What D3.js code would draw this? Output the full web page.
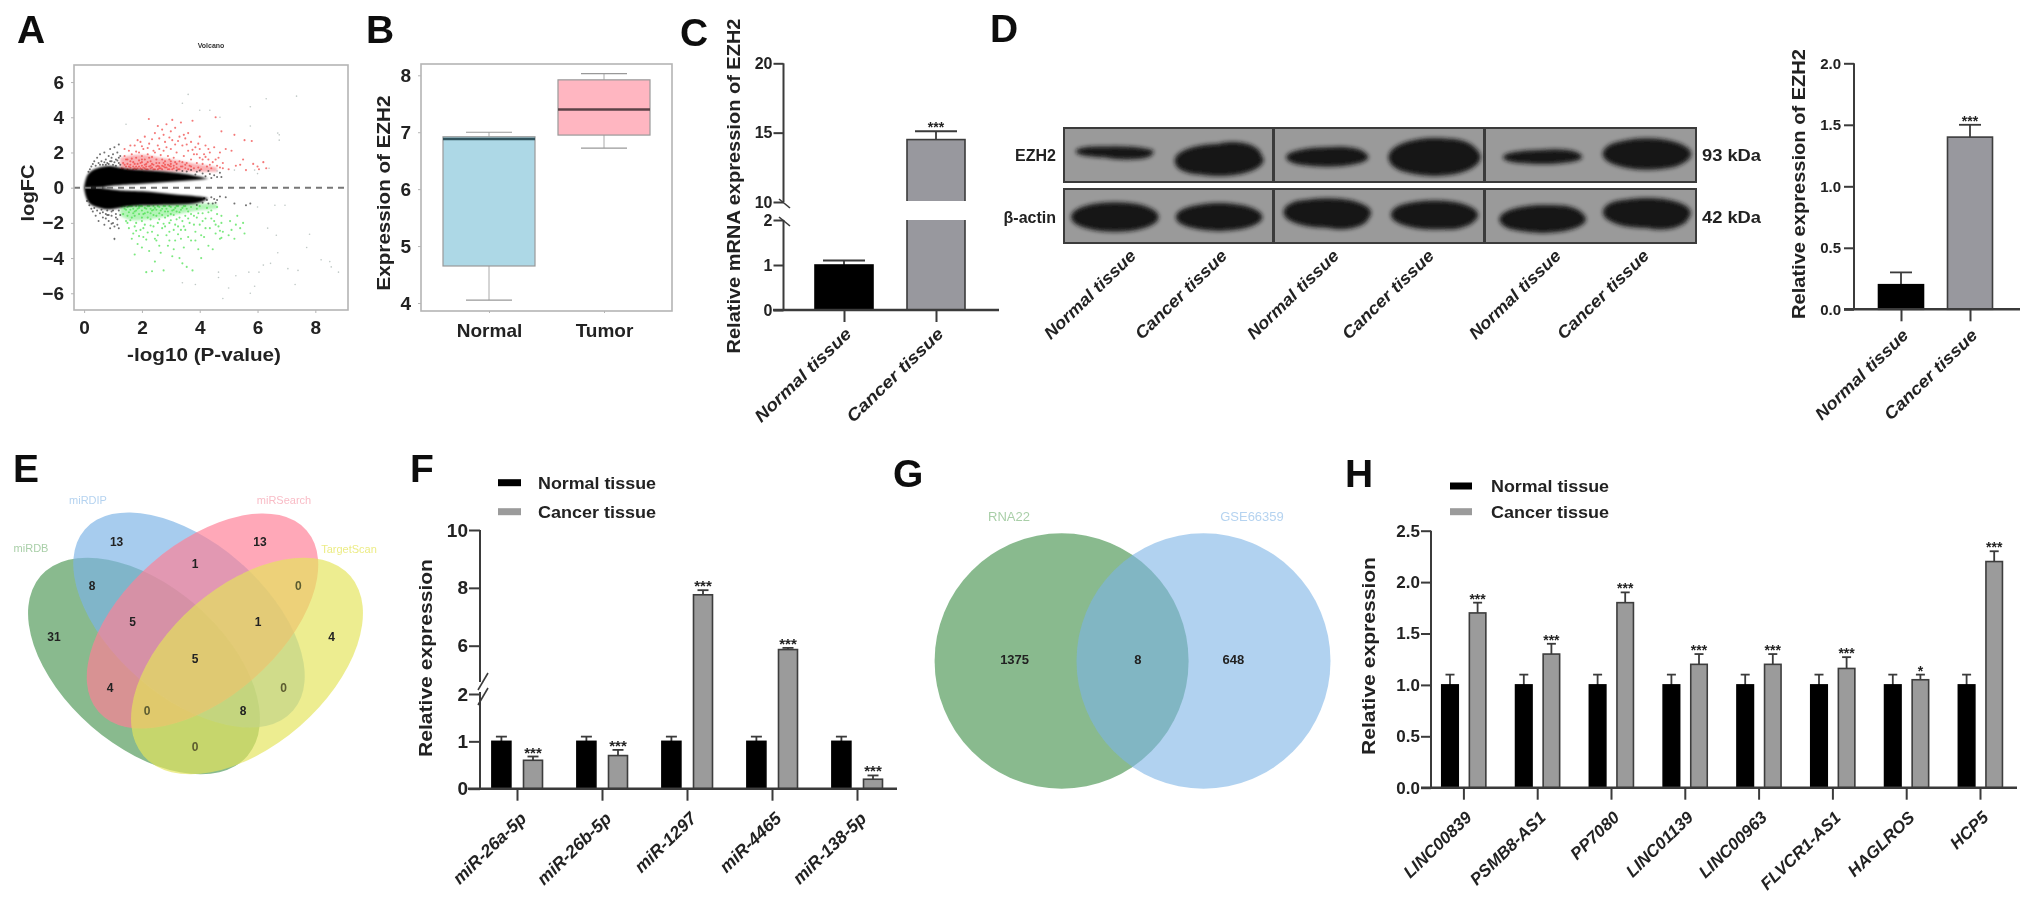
<!DOCTYPE html>
<html><head><meta charset="utf-8">
<script src="https://cdn.jsdelivr.net/npm/d3@7/dist/d3.min.js"></script>
<style>
html,body{margin:0;padding:0;background:#fff}
svg{display:block}
text{font-family:"Liberation Sans",Arial,sans-serif}
</style></head><body>
<svg id="c" width="2031" height="912"></svg>
<script>
// ---------- DATA ----------
const volcanoRed=[[1.3,1.1],[1.35,1.4],[1.4,1.8],[1.45,1.2],[1.5,1.05],[1.5,1.6],[1.55,2.1],[1.6,1.3],[1.6,1.15],[1.65,1.9],[1.7,1.05],[1.7,1.45],[1.75,2.4],[1.8,1.2],[1.8,1.7],[1.85,1.1],[1.85,1.35],[1.9,2.0],[1.9,1.55],[1.95,2.6],[2,1.05],[2,1.25],[2,1.45],[2,1.8],[2.05,2.2],[2.1,1.1],[2.1,1.6],[2.1,2.9],[2.15,1.35],[2.2,1.05],[2.2,1.9],[2.25,1.2],[2.24,3.9],[2.25,2.5],[2.3,1.5],[2.3,1.1],[2.35,1.75],[2.4,2.1],[2.4,1.3],[2.45,3.1],[2.45,1.05],[2.5,1.6],[2.5,1.2],[2.55,2.4],[2.6,1.1],[2.6,1.4],[2.6,2.8],[2.65,1.85],[2.7,1.05],[2.7,1.25],[2.7,3.3],[2.75,2.1],[2.8,1.5],[2.8,1.15],[2.8,2.6],[2.85,3.6],[2.9,1.3],[2.9,1.8],[2.95,1.05],[3,1.2],[3,1.5],[3,2.2],[3,3.2],[3.05,2.7],[3.1,1.1],[3.1,1.7],[3.15,3.4],[3.2,1.35],[3.2,2.0],[3.25,1.05],[3.3,2.9],[3.3,1.5],[3.35,3.7],[3.4,1.2],[3.4,2.4],[3.45,1.8],[3.5,1.1],[3.5,2.8],[3.55,1.4],[3.6,3.1],[3.6,2.1],[3.65,1.25],[3.7,1.6],[3.7,2.6],[3.75,3.8],[3.8,1.1],[3.8,1.9],[3.85,2.3],[3.9,1.4],[3.95,1.15],[4,1.7],[4,2.9],[4,2.2],[4.05,1.05],[4.1,1.35],[4.15,1.9],[4.2,2.4],[4.25,1.2],[4.3,1.6],[4.35,2.0],[4.4,1.1],[4.45,1.45],[4.5,2.3],[4.55,4.0],[4.6,1.25],[4.65,1.7],[4.7,2.0],[4.75,3.2],[4.8,1.1],[4.8,1.4],[4.9,2.2],[5,1.05],[5.1,2.1],[5.2,3.0],[5.25,1.25],[5.4,1.3],[5.5,1.6],[5.6,1.0],[5.55,2.7],[5.8,2.65],[5.85,1.35],[6,1.2],[6.2,1.45],[6.3,1.1],[6.05,1.05],[1.4,1.3],[1.5,1.35],[1.6,1.5],[1.7,1.2],[1.8,1.05],[1.9,1.2],[2,1.6],[2.1,1.3],[2.2,1.45],[2.3,1.25],[2.4,1.05],[2.5,1.4],[2.6,1.2],[2.7,1.6],[2.8,1.3],[2.9,1.05],[3,1.35],[3.1,1.25],[3.2,1.15],[3.3,1.05],[3.4,1.45],[3.5,1.3],[3.6,1.05],[3.7,1.2],[1.45,1.6],[1.65,1.65],[1.75,1.35],[1.95,1.4],[2.05,1.15],[2.15,1.05],[2.25,1.7],[2.35,1.15],[2.55,1.25],[2.65,1.1],[2.75,1.4],[2.85,1.15],[2.95,1.6],[3.05,1.05],[3.15,1.45],[3.35,1.2],[1.35,1.05],[1.55,1.2],[1.75,1.1],[1.95,1.1],[2.15,1.2],[2.35,1.35],[2.55,1.05],[2.75,1.2],[2.95,1.25],[1.4,2.2],[1.6,2.4],[1.8,2.05],[1.85,2.7],[2.0,2.35],[2.2,2.25],[2.35,2.75],[2.45,2.0],[2.6,2.2],[2.85,2.3],[2.95,2.85],[3.15,2.45],[3.25,2.65],[3.45,3.0],[3.55,2.45],[3.75,2.15],[3.9,1.9],[4.1,1.6],[4.2,1.75],[4.35,1.3],[4.55,1.6],[4.7,1.15],[4.3,2.2],[3.95,2.5],[3.05,3.85],[2.75,3.0],[2.55,3.5]];
const volcanoGreen=[[1.3,-1.05],[1.35,-1.5],[1.4,-1.2],[1.45,-1.9],[1.5,-1.1],[1.55,-1.4],[1.55,-2.3],[1.6,-1.05],[1.65,-1.7],[1.7,-1.2],[1.7,-2.6],[1.75,-1.35],[1.8,-1.05],[1.8,-2.0],[1.85,-3.2],[1.9,-1.5],[1.9,-1.15],[1.95,-2.4],[2,-1.05],[2,-1.3],[2,-1.7],[2.05,-2.8],[2.1,-1.15],[2.1,-2.1],[2.15,-4.8],[2.2,-1.4],[2.2,-1.05],[2.25,-3.6],[2.3,-1.8],[2.3,-1.2],[2.35,-2.5],[2.4,-1.05],[2.4,-1.55],[2.45,-4.2],[2.5,-1.25],[2.5,-3.0],[2.55,-2.0],[2.6,-1.1],[2.6,-1.45],[2.65,-3.7],[2.7,-2.3],[2.7,-1.2],[2.75,-4.7],[2.8,-1.7],[2.8,-1.05],[2.85,-2.7],[2.9,-1.35],[2.9,-3.3],[2.95,-2.0],[3,-1.1],[3,-1.5],[3.05,-3.9],[3.1,-2.4],[3.1,-1.25],[3.15,-3.0],[3.2,-1.05],[3.2,-1.8],[3.25,-2.2],[3.3,-1.4],[3.3,-4.0],[3.35,-2.9],[3.4,-1.15],[3.4,-1.9],[3.45,-3.4],[3.5,-1.05],[3.5,-2.4],[3.55,-4.5],[3.6,-1.35],[3.65,-2.0],[3.7,-3.0],[3.7,-1.1],[3.75,-4.7],[3.8,-1.6],[3.85,-2.5],[3.9,-1.2],[3.95,-3.5],[4,-1.05],[4,-2.1],[4.05,-4.0],[4.1,-1.45],[4.15,-2.8],[4.2,-1.75],[4.25,-1.15],[4.3,-3.3],[4.35,-2.3],[4.4,-1.3],[4.45,-3.5],[4.5,-1.9],[4.55,-2.6],[4.6,-1.1],[4.6,-1.5],[4.65,-2.2],[4.7,-2.9],[4.75,-1.6],[4.75,-2.0],[4.8,-2.5],[5,-2.7],[5.05,-1.9],[5.1,-2.4],[5.2,-2.9],[5.25,-2.1],[5.3,-1.6],[5.4,-2.3],[5.5,-2.0],[5.55,-2.6],[1.4,-1.05],[1.5,-1.6],[1.6,-1.25],[1.65,-1.05],[1.75,-1.6],[1.85,-1.2],[1.95,-1.05],[2.05,-1.5],[2.15,-1.2],[2.25,-1.05],[2.35,-1.3],[2.45,-1.15],[2.55,-1.05],[2.65,-1.3],[2.75,-1.05],[2.85,-1.2],[2.95,-1.05],[3.05,-1.3],[3.15,-1.15],[3.25,-1.05],[3.35,-1.25],[3.45,-1.05],[3.55,-1.2],[1.45,-1.25],[1.55,-1.05],[1.7,-1.45],[1.8,-1.3],[1.9,-1.05],[2,-1.9],[2.1,-1.45],[2.2,-1.7],[2.3,-1.45],[2.4,-1.25],[2.5,-1.6],[2.6,-1.8],[2.7,-1.55],[2.8,-1.35],[2.9,-1.6],[3,-1.85],[3.1,-1.55],[3.2,-1.35],[3.3,-1.7],[3.5,-1.6],[3.7,-1.5],[3.9,-1.7],[4.1,-1.9],[4.3,-1.4],[1.6,-1.85],[1.75,-2.2],[1.9,-2.75],[2.05,-2.3],[2.2,-2.55],[2.4,-2.2],[2.55,-2.7],[2.75,-2.05],[2.95,-2.5],[3.15,-2.1],[3.35,-2.4],[3.6,-2.8],[3.85,-3.0],[4.05,-2.7],[1.5,-2.0],[1.65,-2.9],[1.8,-2.45],[2.0,-3.4],[2.15,-2.95],[2.3,-2.15],[2.45,-2.9],[2.6,-3.3],[2.8,-2.2],[2.95,-3.0],[3.1,-3.5],[3.25,-2.65],[3.45,-2.2],[3.6,-1.75],[3.8,-2.1],[3.95,-1.45],[4.2,-2.3],[4.4,-1.75],[4.55,-2.1],[4.7,-2.45],[4.75,-2.85],[1.75,-3.8],[2.35,-4.75],[3.4,-4.3]];
const volcanoBlack=[[0.25,1.2],[0.3,1.35],[0.35,1.5],[0.4,1.25],[0.45,1.7],[0.5,1.4],[0.55,1.9],[0.6,1.5],[0.65,1.3],[0.7,2.0],[0.75,1.6],[0.8,1.4],[0.85,1.8],[0.9,2.2],[0.95,1.5],[1,1.3],[1,1.9],[1.05,2.3],[1.1,1.6],[1.15,2.0],[1.2,1.4],[1.2,2.45],[1.25,1.8],[0.95,1.7],[0.85,1.35],[0.75,1.3],[1.1,1.25],[1.05,1.45],[1.15,1.55],[1.25,1.3],[1.2,1.7],[0.9,1.5],[0.7,1.45],[0.55,1.3],[0.25,-1.2],[0.3,-1.35],[0.35,-1.15],[0.4,-1.6],[0.45,-1.3],[0.5,-1.9],[0.55,-1.45],[0.6,-1.25],[0.65,-1.7],[0.7,-2.1],[0.75,-1.5],[0.8,-1.3],[0.85,-1.9],[0.9,-2.3],[0.95,-1.6],[1,-1.3],[1,-2.0],[1.05,-2.2],[1.05,-2.9],[1.1,-1.5],[1.15,-1.8],[1.2,-2.3],[1.2,-1.3],[0.65,-1.4],[0.85,-1.55],[0.75,-1.75],[0.95,-1.35],[1.1,-1.7],[1.25,-1.55],[1.15,-2.1],[0.95,-2.05],[0.8,-1.55],[3.9,0.9],[4.1,0.8],[4.3,0.95],[4.5,0.7],[4.7,0.85],[4.75,0.6],[3.7,1.0],[3.4,0.95],[4.2,0.65],[3.2,0.98],[3.55,0.92],[3.85,0.75],[4.0,0.98],[4.35,0.78],[4.6,0.6],[4.4,0.55],[4.4,-0.55],[4.1,-0.85],[4.25,-0.7],[4.55,-0.85],[4.7,-0.5],[4.9,-0.55],[5.2,-0.9],[5.75,-0.9],[5.6,-1.0],[4.45,-0.9],[4.5,-0.65],[4.3,-0.9],[4.6,-0.7],[3.9,-0.98],[4.15,-0.6],[1.3,0.98],[1.25,1.0],[0.15,0.9],[0.1,-0.75],[0.2,1.05],[0.18,-1.0]];
const volcanoGray=[[1.45,3.6],[3.4,4.8],[3.6,5.3],[4.0,4.4],[4.35,4.4],[4.7,4.0],[5.75,4.6],[5.75,3.5],[6.3,5.05],[7.35,5.2],[6.75,3.0],[6.75,2.7],[6.7,3.1],[6.4,1.1],[5.9,1.0],[6.0,0.8],[5.2,1.0],[4.6,0.95],[1.05,-2.95],[4.65,-4.8],[5.25,-5.0],[5.7,-4.8],[6.05,-4.8],[6.2,-4.4],[6.45,-4.3],[6.7,-3.7],[6.65,-2.7],[6.35,-2.3],[7.3,-5.5],[7.05,-4.6],[7.4,-4.7],[7.8,-2.65],[8.2,-4.1],[8.5,-4.2],[8.55,-4.5],[8.8,-4.8],[7.7,-3.4],[3.4,-5.4],[3.85,-5.5],[4.65,-5.1],[4.8,-6.3],[5.0,-5.7],[5.75,-6.0],[5.9,-5.6],[6.0,-1.1],[6.6,-1.0],[6.95,-1.0]];
// envelope of the saturated black mass, per -log10(P) position
const massX=[0,0.05,0.15,0.4,0.65,0.9,1.2,1.5,2,2.5,3,3.5,4,4.3];
const massUpOuter=[0.05,0.5,0.85,1.1,1.2,1.25,1.15,1.05,1.0,0.95,0.88,0.8,0.62,0.5];
const massUpInner=[0,0,0,0,0.02,0.1,0.14,0.18,0.22,0.28,0.34,0.4,0.46,0.5];
const massLoInner=[0,0,0,0,-0.02,-0.1,-0.14,-0.18,-0.2,-0.28,-0.36,-0.44,-0.5,-0.6];
const massLoOuter=[-0.05,-0.5,-0.9,-1.1,-1.2,-1.25,-1.15,-1.05,-1.0,-0.98,-0.98,-0.95,-0.88,-0.6];
// saturated density of the coloured points, per -log10(P) position
const denseX=[1.25,1.6,2,2.5,3,3.4,3.9,4.6];
const denseRedTop=[1.7,1.85,1.9,1.75,1.6,1.5,1.35,1.15];
const denseGreenBottom=[-1.6,-1.9,-1.85,-1.75,-1.6,-1.45,-1.3,-1.2];

const boxCats=["Normal","Tumor"];
const boxLow=[4.05,6.72],boxQ1=[4.65,6.95],boxMed=[6.88,7.4],boxQ3=[6.92,7.92],boxHigh=[7.0,8.03];

const tissue=["Normal tissue","Cancer tissue"];
const cValues=[1.0,14.5],cErr=[1.1,15.1];
const dValues=[0.2,1.4],dErr=[0.3,1.5];

const blotLanes=["Normal tissue","Cancer tissue","Normal tissue","Cancer tissue","Normal tissue","Cancer tissue"];
const ezh2Signal=[0.12,0.8,0.38,1.0,0.2,0.78];
const actinSignal=[0.72,0.66,0.72,0.7,0.66,0.74];

const vennNames=["miRDB","miRDIP","miRSearch","TargetScan"];
const vennCounts=[13,13,8,1,0,5,1,31,4,5,4,0,0,8,0];
const venn2Names=["RNA22","GSE66359"];
const venn2Counts=[1375,8,648];

const miRs=["miR-26a-5p","miR-26b-5p","miR-1297","miR-4465","miR-138-5p"];
const fNormal=[1,1,1,1,1],fNormalErr=[1.1,1.1,1.1,1.1,1.1];
const fCancer=[0.6,0.7,7.76,5.68,0.2],fCancerErr=[0.68,0.82,7.92,5.82,0.28];
const fStars=["***","***","***","***","***"];

const lncs=["LINC00839","PSMB8-AS1","PP7080","LINC01139","LINC00963","FLVCR1-AS1","HAGLROS","HCP5"];
const hNormal=[1,1,1,1,1,1,1,1],hNormalErr=[1.1,1.1,1.1,1.1,1.1,1.1,1.1,1.1];
const hCancer=[1.7,1.3,1.8,1.2,1.2,1.16,1.05,2.2],hCancerErr=[1.8,1.4,1.9,1.3,1.3,1.27,1.1,2.3];
const hStars=["***","***","***","***","***","***","*","***"];

// ---------- LAYOUT ----------
const svg=d3.select("#c");
const defs=svg.append("defs");
const blur=(id,s)=>defs.append("filter").attr("id",id).attr("x","-30%").attr("y","-60%").attr("width","160%").attr("height","220%")
  .append("feGaussianBlur").attr("stdDeviation",s);
blur("soft",0.45);blur("bandBlur",2.2);blur("massBlur",0.9);
const root=svg.append("g").attr("filter","url(#soft)");
const AX="#3a3a3a", BAR="#98989e", BAR2="#9b9b9b";

function txt(x,y,s,o={}){
  const t=root.append("text").attr("x",x).attr("y",y).text(s)
    .attr("font-size",o.size||16).attr("font-weight",o.weight||"bold")
    .attr("text-anchor",o.anchor||"start").attr("fill",o.fill||"#222");
  if(o.italic)t.attr("font-style","italic");
  if(o.rot!==undefined)t.attr("transform",`rotate(${o.rot} ${x} ${y})`);
  if(o.len)t.attr("textLength",o.len).attr("lengthAdjust","spacingAndGlyphs");
  return t;
}
[["A",17,43],["B",366,43],["C",680,46],["D",990,42],["E",13,482],["F",410,482],["G",893,487],["H",1345,487]]
 .forEach(d=>txt(d[1],d[2],d[0],{size:39,fill:"#111"}));

// ---------- A: volcano ----------
(function(){
  const x=d3.scaleLinear().domain([-0.35,9.13]).range([74,348]);
  const y=d3.scaleLinear().domain([-6.95,6.97]).range([310,65]);
  const g=root.append("g");
  const dots=(data,col,op,r)=>g.append("g").selectAll("circle").data(data).join("circle")
    .attr("cx",d=>x(d[0])).attr("cy",d=>y(d[1])).attr("r",r).attr("fill",col).attr("fill-opacity",op);
  const area=d3.area().x(d=>x(d.x)).y0(d=>y(d.a)).y1(d=>y(d.b)).curve(d3.curveBasis);
  const soft=g.append("g").attr("filter","url(#massBlur)");
  soft.append("path").attr("d",area(denseX.map((v,i)=>({x:v,a:0.9,b:denseRedTop[i]})))).attr("fill","#f2545a").attr("fill-opacity",0.45);
  soft.append("path").attr("d",area(denseX.map((v,i)=>({x:v,a:-0.9,b:denseGreenBottom[i]})))).attr("fill","#4fe455").attr("fill-opacity",0.42);
  dots(volcanoGray,"#8a9a96",0.55,0.8);
  dots(volcanoRed,"#f0403f",0.7,1.05);
  dots(volcanoGreen,"#45e04a",0.7,1.05);
  dots(volcanoBlack,"#222",0.65,1);
  g.append("g").attr("filter","url(#massBlur)").call(h=>{
    h.append("path").attr("d",area(massX.map((v,i)=>({x:v,a:massUpInner[i],b:massUpOuter[i]})))).attr("fill","#050505");
    h.append("path").attr("d",area(massX.map((v,i)=>({x:v,a:massLoInner[i],b:massLoOuter[i]})))).attr("fill","#050505");
  });
  g.append("line").attr("x1",x(-0.35)).attr("x2",x(9.13)).attr("y1",y(0)).attr("y2",y(0))
    .attr("stroke","#777").attr("stroke-width",2).attr("stroke-dasharray","6 5");
  g.append("rect").attr("x",74).attr("y",65).attr("width",274).attr("height",245).attr("fill","none").attr("stroke","#b5b5b5").attr("stroke-width",1.6);
  const ax=g.append("g").attr("transform","translate(0,310)").call(d3.axisBottom(x).tickValues([0,2,4,6,8]).tickSize(3).tickPadding(8));
  const ay=g.append("g").attr("transform","translate(74,0)").call(d3.axisLeft(y).tickValues([-6,-4,-2,0,2,4,6]).tickSize(3).tickPadding(7));
  [ax,ay].forEach(a=>{a.select(".domain").remove();a.selectAll("line").attr("stroke","#b5b5b5");
    a.selectAll("text").attr("font-size",19).attr("font-weight","bold").attr("fill","#222").attr("font-family",'"Liberation Sans"');});
  txt(211,48,"Volcano",{size:7,anchor:"middle",fill:"#333"});
  txt(34,193,"logFC",{size:19,anchor:"middle",rot:-90,len:57});
  txt(204,361,"-log10 (P-value)",{size:19,anchor:"middle",len:154});
})();

// ---------- B: box plot ----------
(function(){
  const y=d3.scaleLinear().domain([4,8]).range([303,75.3]);
  const x=d3.scalePoint().domain(boxCats).range([489,604]);
  const g=root.append("g");
  const fills=["#add8e6","#ffb6c1"];
  boxCats.forEach((c,i)=>{
    const cx=x(c);
    g.append("line").attr("x1",cx).attr("x2",cx).attr("y1",y(boxLow[i])).attr("y2",y(boxHigh[i])).attr("stroke","#aaa").attr("stroke-width",1);
    [boxLow[i],boxHigh[i]].forEach(v=>g.append("line").attr("x1",cx-23).attr("x2",cx+23).attr("y1",y(v)).attr("y2",y(v)).attr("stroke","#999").attr("stroke-width",1.2));
    g.append("rect").attr("x",cx-46).attr("width",92).attr("y",y(boxQ3[i])).attr("height",y(boxQ1[i])-y(boxQ3[i])).attr("fill",fills[i]).attr("stroke","#999").attr("stroke-width",1.2);
    g.append("line").attr("x1",cx-46).attr("x2",cx+46).attr("y1",y(boxMed[i])).attr("y2",y(boxMed[i])).attr("stroke",i?"#5c4247":"#33545e").attr("stroke-width",2.6);
  });
  g.append("rect").attr("x",421).attr("y",64).attr("width",251).attr("height",247).attr("fill","none").attr("stroke","#b5b5b5").attr("stroke-width",1.6);
  const ay=g.append("g").attr("transform","translate(421,0)").call(d3.axisLeft(y).tickValues([4,5,6,7,8]).tickFormat(d3.format("d")).tickSize(3).tickPadding(7));
  const ax=g.append("g").attr("transform","translate(0,311)").call(d3.axisBottom(x).tickSize(2).tickPadding(11));
  [ax,ay].forEach(a=>{a.select(".domain").remove();a.selectAll("line").attr("stroke","#b5b5b5");
    a.selectAll("text").attr("font-size",19).attr("font-weight","bold").attr("fill","#222").attr("font-family",'"Liberation Sans"');});
  txt(390,193,"Expression of EZH2",{size:19,anchor:"middle",rot:-90,len:195});
})();

// ---------- bar helpers ----------
function styleAxis(a,size,weight){
  a.select(".domain").remove();
  a.selectAll("line").attr("stroke",AX).attr("stroke-width",2);
  a.selectAll("text").attr("font-size",size).attr("font-weight",weight||"bold").attr("fill","#222").attr("font-family",'"Liberation Sans"');
}
function bars(g,x,y,cats,vals,errs,offset,width,fills,cap,base){
  cats.forEach((c,i)=>{
    const cx=x(c)+offset, top=y(vals[i]), fill=Array.isArray(fills)?fills[i]:fills;
    g.append("line").attr("x1",cx).attr("x2",cx).attr("y1",top).attr("y2",y(errs[i])).attr("stroke",AX).attr("stroke-width",1.8);
    g.append("line").attr("x1",cx-cap).attr("x2",cx+cap).attr("y1",y(errs[i])).attr("y2",y(errs[i])).attr("stroke",AX).attr("stroke-width",1.8);
    g.append("rect").attr("x",cx-width/2).attr("width",width).attr("y",top).attr("height",base-top)
      .attr("fill",fill).attr("stroke",fill==="#000"?"#000":"#3c3c3c").attr("stroke-width",1.6);
  });
}
function stars(g,x,y,cats,errs,offset,labels,size){
  cats.forEach((c,i)=>g.append("text").attr("x",x(c)+offset).attr("y",y(errs[i])+1).attr("text-anchor","middle")
    .attr("font-size",size).attr("font-weight","bold").attr("fill","#222").text(labels[i]));
}
function legend(x0,x1,xt,y0,y1,len){
  [[y0,"#000",tissue[0]],[y1,BAR2,tissue[1]]].forEach(d=>{
    root.append("rect").attr("x",x0).attr("width",x1-x0).attr("y",d[0]-3.5).attr("height",7).attr("fill",d[1]);
    txt(xt,d[0]+6,d[2],{size:16,len});
  });
}
function rotLabels(ax,size,dx,dy,len){
  ax.selectAll("text").attr("transform",null).attr("text-anchor","end")
    .attr("font-style","italic").attr("font-size",size)
    .attr("textLength",len||null).attr("lengthAdjust","spacingAndGlyphs")
    .attr("x",0).attr("y",0).attr("dy",null)
    .attr("transform",`translate(${dx},${dy}) rotate(-44)`);
}

// ---------- C ----------
(function(){
  const y=d3.scaleLinear().domain([0,2,10,20]).range([310,220,202,63.3]);
  const x=d3.scalePoint().domain(tissue).range([844,936]);
  const g=root.append("g");
  bars(g,x,y,tissue,cValues,cErr,0,58,["#000",BAR],21,310);
  g.append("rect").attr("x",900).attr("width",72).attr("y",y(10)-1).attr("height",y(2)-y(10)+1).attr("fill","#fff");
  stars(g,x,y,tissue.slice(1),[cErr[1]],0,["***"],14);
  g.append("line").attr("x1",783.5).attr("x2",783.5).attr("y1",y(0)).attr("y2",y(2)).attr("stroke",AX).attr("stroke-width",2);
  g.append("line").attr("x1",783.5).attr("x2",783.5).attr("y1",y(10)).attr("y2",y(20)).attr("stroke",AX).attr("stroke-width",2);
  [[y(10)],[y(2)]].forEach(d=>g.append("line").attr("x1",779).attr("x2",790).attr("y1",d[0]-3).attr("y2",d[0]+6).attr("stroke",AX).attr("stroke-width",1.6));
  const ay=g.append("g").attr("transform","translate(783.5,0)").call(d3.axisLeft(y).tickValues([0,1,2,10,15,20]).tickFormat(d3.format("d")).tickSize(10).tickPadding(1));
  styleAxis(ay,16);
  g.append("line").attr("x1",773).attr("x2",999).attr("y1",310).attr("y2",310).attr("stroke",AX).attr("stroke-width",2.6);
  const ax=g.append("g").attr("transform","translate(0,310)").call(d3.axisBottom(x).tickSize(12));
  styleAxis(ax,17); rotLabels(ax,17,8,25,127);
  txt(740,186,"Relative mRNA expression of EZH2",{size:18,anchor:"middle",rot:-90,len:335,weight:"600"});
})();

// ---------- D blot ----------
(function(){
  const lanes=d3.scalePoint().domain(d3.range(6)).range([1115,1641]);
  const offs=[0,-1,2,4,7,6];
  const rows=[{sig:ezh2Signal,y0:128,y1:182,mid:155,name:"EZH2",kda:"93 kDa",tilt:[-3,5,2,2,2,-1]},
              {sig:actinSignal,y0:189,y1:243,mid:217,name:"β-actin",kda:"42 kDa",tilt:[0,0,-4,-2,2,-4]}];
  const w=d3.scaleLinear().domain([0,1]).range([38,46]);
  const h=d3.scaleLinear().domain([0,1]).range([4,19]);
  const panels=[[1064,1273],[1274,1484],[1485,1696]];
  rows.forEach(r=>{
    panels.forEach(p=>root.append("rect").attr("x",p[0]).attr("y",r.y0).attr("width",p[1]-p[0]).attr("height",r.y1-r.y0)
      .attr("fill","#9a9a9a").attr("stroke","#3a3a3a").attr("stroke-width",2));
    const b=root.append("g").attr("filter","url(#bandBlur)");
    b.selectAll("ellipse.main").data(r.sig).join("ellipse").attr("class","main")
      .attr("cx",(d,i)=>lanes(i)+offs[i]).attr("cy",(d,i)=>r.mid+r.tilt[i]).attr("rx",d=>w(d)).attr("ry",d=>h(d)).attr("fill","#141414");
    b.selectAll("ellipse.lobe").data(r.sig).join("ellipse").attr("class","lobe")
      .attr("cx",(d,i)=>lanes(i)+offs[i]+w(d)*0.3).attr("cy",(d,i)=>r.mid+r.tilt[i]*0.2).attr("rx",d=>w(d)*0.65).attr("ry",d=>h(d)*0.88).attr("fill","#141414");
    b.selectAll("ellipse.lobe2").data(r.sig).join("ellipse").attr("class","lobe2")
      .attr("cx",(d,i)=>lanes(i)+offs[i]-w(d)*0.45).attr("cy",(d,i)=>r.mid+r.tilt[i]*1.3).attr("rx",d=>w(d)*0.55).attr("ry",d=>h(d)*0.8).attr("fill","#141414");
    txt(1056,r.mid+6,r.name,{size:16,anchor:"end"});
    txt(1702,r.mid+6,r.kda,{size:16,len:59});
  });
  blotLanes.forEach((c,i)=>{
    txt([1137,1228,1340,1435,1562,1650][i],257,c,{size:17,anchor:"end",italic:true,rot:-44,len:120});
  });
})();

// ---------- D bars ----------
(function(){
  const y=d3.scaleLinear().domain([0,2]).range([309.3,63.3]);
  const x=d3.scalePoint().domain(tissue).range([1901,1970]);
  const g=root.append("g");
  bars(g,x,y,tissue,dValues,dErr,0,45,["#000",BAR],11,309.3);
  stars(g,x,y,tissue.slice(1),[dErr[1]],0,["***"],14);
  g.append("line").attr("x1",1854).attr("x2",1854).attr("y1",y(0)).attr("y2",y(2)).attr("stroke",AX).attr("stroke-width",2);
  const ay=g.append("g").attr("transform","translate(1854,0)").call(d3.axisLeft(y).tickValues([0,0.5,1,1.5,2]).tickFormat(d3.format(".1f")).tickSize(10).tickPadding(3));
  styleAxis(ay,15);
  g.append("line").attr("x1",1844).attr("x2",2020).attr("y1",309.3).attr("y2",309.3).attr("stroke",AX).attr("stroke-width",2.6);
  const ax=g.append("g").attr("transform","translate(0,309.3)").call(d3.axisBottom(x).tickSize(12));
  styleAxis(ax,17); rotLabels(ax,17,8,27,122);
  txt(1805,184,"Relative expression of EZH2",{size:18,anchor:"middle",rot:-90,len:270,weight:"600"});
})();

// ---------- E venn ----------
(function(){
  const ell=[{cx:144,cy:666,a:137,b:80,r:41,f:"#4f9a58"},{cx:189,cy:620,a:138,b:77,r:41,f:"#7db4e6"},{cx:202.5,cy:621,a:138,b:77,r:-41,f:"#ff8096"},{cx:247,cy:666,a:137,b:80,r:-41,f:"#e4e45c"}];
  const g=root.append("g");
  g.selectAll("ellipse").data(ell).join("ellipse").attr("cx",d=>d.cx).attr("cy",d=>d.cy).attr("rx",d=>d.a).attr("ry",d=>d.b)
    .attr("transform",d=>`rotate(${d.r} ${d.cx} ${d.cy})`).attr("fill",d=>d.f).attr("fill-opacity",0.68);
  const pos=[[116.6,541.7],[260,541.7],[92,585.7],[195,564],[298.4,585.7],[132.7,622],[258,622],[54,637],[331.5,637],[195,659],[110,688],[283.7,688],[147,710.7],[243,710.7],[195,747]];
  vennCounts.forEach((c,i)=>txt(pos[i][0],pos[i][1]+4,c,{size:12,anchor:"middle",fill:c===0?"#5c5c30":"#222"}));
  const np=[[31,552,"#a9cfa8"],[88,504,"#b5d3f0"],[284,504,"#f9bcc6"],[349,553,"#ecec86"]];
  vennNames.forEach((n,i)=>txt(np[i][0],np[i][1],n,{size:11,anchor:"middle",weight:"normal",fill:np[i][2]}));
})();

// ---------- F ----------
(function(){
  const y=d3.scaleLinear().domain([0,2,6,10]).range([788.7,694,645.7,530]);
  const x=d3.scalePoint().domain(miRs).range([517,857]);
  const g=root.append("g");
  bars(g,x,y,miRs,fNormal,fNormalErr,-15.6,19,"#000",5.5,788.7);
  bars(g,x,y,miRs,fCancer,fCancerErr,16,19,BAR2,5.5,788.7);
  stars(g,x,y,miRs,fCancerErr,16,fStars,15);
  g.append("line").attr("x1",480).attr("x2",480).attr("y1",y(0)).attr("y2",y(2)-2).attr("stroke",AX).attr("stroke-width",2);
  g.append("line").attr("x1",480).attr("x2",480).attr("y1",682).attr("y2",y(10)).attr("stroke",AX).attr("stroke-width",2);
  [682,697].forEach(v=>g.append("line").attr("x1",478).attr("x2",488).attr("y1",v+8).attr("y2",v-9).attr("stroke",AX).attr("stroke-width",1.6));
  const ay=g.append("g").attr("transform","translate(480,0)").call(d3.axisLeft(y).tickValues([0,1,2,6,8,10]).tickFormat(d3.format("d")).tickSize(11).tickPadding(1));
  styleAxis(ay,19);
  g.append("line").attr("x1",468).attr("x2",897).attr("y1",788.7).attr("y2",788.7).attr("stroke",AX).attr("stroke-width",2.4);
  const ax=g.append("g").attr("transform","translate(0,788.7)").call(d3.axisBottom(x).tickSize(12));
  styleAxis(ax,17.5,"bold"); rotLabels(ax,17.5,10,31);
  txt(432,658,"Relative expression",{size:19,anchor:"middle",rot:-90,len:198,weight:"600"});
  legend(498,521,538,482.7,511.7,118);
})();

// ---------- G venn ----------
(function(){
  const cs=[{cx:1061.6,f:"#4f9a58",o:0.68},{cx:1203.5,f:"#7db4e6",o:0.6}];
  const g=root.append("g");
  g.selectAll("ellipse").data(cs).join("ellipse").attr("cx",d=>d.cx).attr("cy",661).attr("rx",127).attr("ry",127.7).attr("fill",d=>d.f).attr("fill-opacity",d=>d.o);
  [1014.6,1137.8,1233.4].forEach((px,i)=>txt(px,664,venn2Counts[i],{size:13,anchor:"middle"}));
  txt(1009,521,venn2Names[0],{size:13,anchor:"middle",weight:"normal",fill:"#a9cfa8"});
  txt(1252,521,venn2Names[1],{size:13,anchor:"middle",weight:"normal",fill:"#b5d3f0"});
})();

// ---------- H ----------
(function(){
  const y=d3.scaleLinear().domain([0,2.5]).range([787.7,530.7]);
  const x=d3.scalePoint().domain(lncs).range([1463.4,1980]);
  const g=root.append("g");
  bars(g,x,y,lncs,hNormal,hNormalErr,-13.4,16.5,"#000",4.5,787.7);
  bars(g,x,y,lncs,hCancer,hCancerErr,14.2,16.5,BAR2,4.5,787.7);
  stars(g,x,y,lncs,hCancerErr,14.2,hStars,14);
  g.append("line").attr("x1",1431).attr("x2",1431).attr("y1",y(0)).attr("y2",y(2.5)).attr("stroke",AX).attr("stroke-width",2);
  const ay=g.append("g").attr("transform","translate(1431,0)").call(d3.axisLeft(y).tickValues([0,0.5,1,1.5,2,2.5]).tickFormat(d3.format(".1f")).tickSize(10).tickPadding(1));
  styleAxis(ay,17);
  g.append("line").attr("x1",1421).attr("x2",2017).attr("y1",787.7).attr("y2",787.7).attr("stroke",AX).attr("stroke-width",2.4);
  const ax=g.append("g").attr("transform","translate(0,787.7)").call(d3.axisBottom(x).tickSize(12));
  styleAxis(ax,17,"bold"); rotLabels(ax,17,9,31);
  txt(1375,656,"Relative expression",{size:18,anchor:"middle",rot:-90,len:198,weight:"600"});
  legend(1450,1472,1491,486,511.7,118);
})();
</script></body></html>
